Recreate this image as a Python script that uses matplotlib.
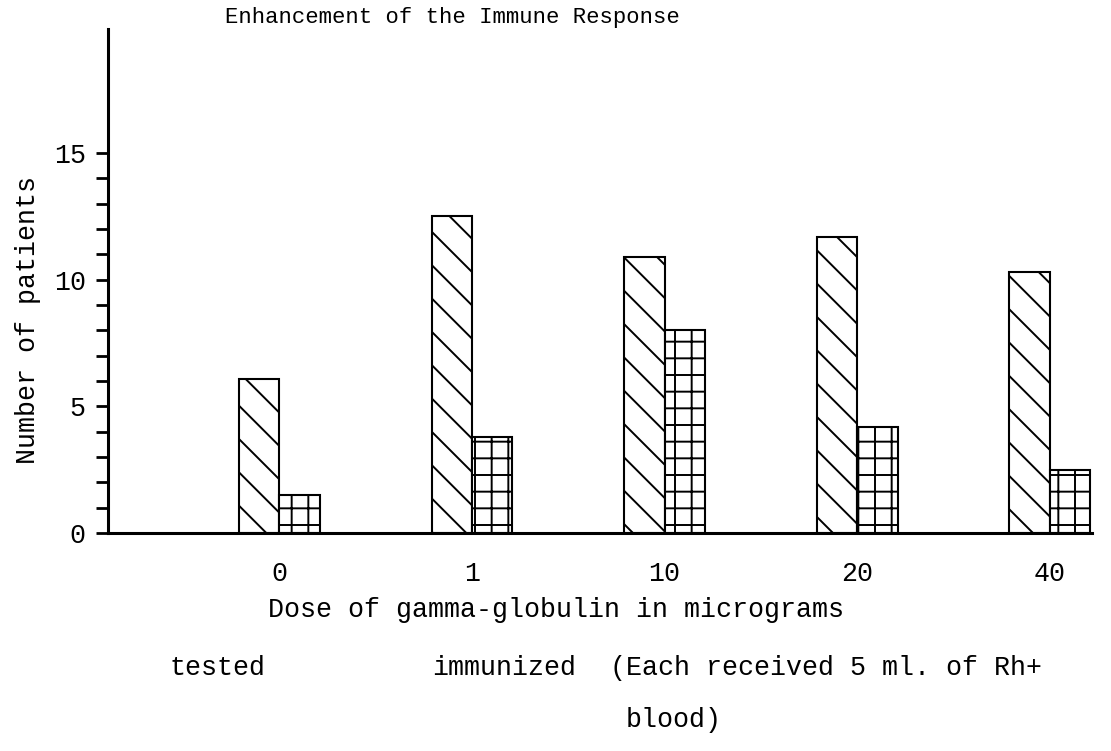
import matplotlib.pyplot as plt
import numpy as np

# values
doses = ['0', '1', '10', '20', '40']
tested = [6.1, 12.5, 10.9, 11.7, 10.3]
immunized = [1.5, 3.8, 8.0, 4.2, 2.5]

y_major = [0, 5, 10, 15]
y_minor = list(range(1, 15))

plt.rcParams['font.family'] = ['Liberation Mono', 'DejaVu Sans Mono']
plt.rcParams['hatch.linewidth'] = 0.7

# dpi 200 keeps the hatch spacing as coarse as the hand-drawn one
W, H, DPI = 1111, 751, 200
fig = plt.figure(figsize=(W / DPI, H / DPI), dpi=DPI)
ax = fig.add_axes([108 / W, 1 - 533 / H, 984 / W, 504 / H])

x = np.arange(len(doses))
w = 0.21
ax.bar(x, tested, width=-w, align='edge', color='white',
       edgecolor='black', lw=0.75, hatch='\\\\')
ax.bar(x, immunized, width=w, align='edge', color='white',
       edgecolor='black', lw=0.75, hatch='++')

ax.set_xlim(-0.89, 4.22)
ax.set_ylim(0, 19.9)

for s in ['top', 'right']:
    ax.spines[s].set_visible(False)
for s in ['left', 'bottom']:
    ax.spines[s].set_linewidth(1.1)

ax.set_xticks(x)
ax.set_xticklabels(doses, fontsize=9.6)
ax.tick_params(axis='x', length=0, pad=10)

ax.set_yticks(y_major)
ax.set_yticks(y_minor, minor=True)
ax.set_yticklabels([str(v) for v in y_major], fontsize=9.6)
ax.tick_params(axis='y', which='both', length=4.5, width=1.0, pad=3.5)


def ftext(px, py, s, **kw):
    fig.text(px / W, 1 - py / H, s, fontsize=kw.pop('fontsize', 9.6),
             va='center', **kw)


ftext(225, 18, 'Enhancement of the Immune Response', fontsize=8.0)
ftext(28, 320, 'Number of patients', rotation=90, ha='center')
ftext(268, 610, 'Dose of gamma-globulin in micrograms')
ftext(170, 668, 'tested')
ftext(432, 668, 'immunized')
ftext(610, 668, '(Each received 5 ml. of Rh+')
ftext(626, 720, 'blood)')

plt.savefig('out.png', dpi=DPI)
